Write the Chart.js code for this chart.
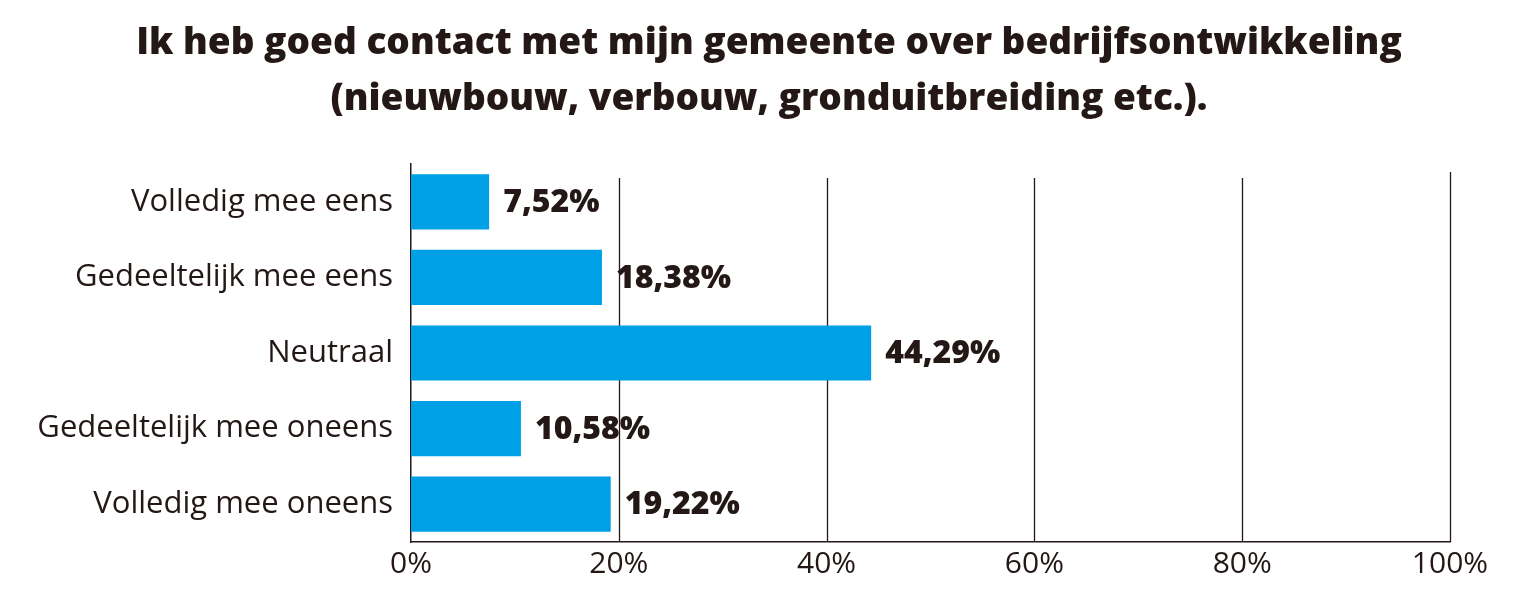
<!DOCTYPE html>
<html>
<head>
<meta charset="utf-8">
<script src="https://cdn.jsdelivr.net/npm/chart.js@4"></script>
<style>
  html, body { margin: 0; padding: 0; background: #fff; }
  #wrap { width: 1532px; height: 608px; }
</style>
</head>
<body>
<div id="wrap"><canvas id="chart"></canvas></div>
<script>
// answers, top to bottom
const categories = ['Volledig mee eens', 'Gedeeltelijk mee eens', 'Neutraal', 'Gedeeltelijk mee oneens', 'Volledig mee oneens'];
const percentages = [7.52, 18.38, 44.29, 10.58, 19.22];
const tickValues = [0, 20, 40, 60, 80, 100];
const titleLines = ['Ik heb goed contact met mijn gemeente over bedrijfsontwikkeling', '(nieuwbouw, verbouw, gronduitbreiding etc.).'];

const ink = '#231815';
const blue = '#00a0e6';

// title centred on the whole picture, not only over the plot
const wideTitle = {
  id: 'wideTitle',
  afterLayout(chart) {
    if (chart.titleBlock) {
      chart.titleBlock.left = 6;
      chart.titleBlock.right = chart.width;
    }
  }
};

// vertical lines, they stop a bit under the top of the plot (like the original)
const gridLines = {
  id: 'gridLines',
  beforeDatasetsDraw(chart) {
    const ctx = chart.ctx;
    const x = chart.scales.x;
    const area = chart.chartArea;
    ctx.save();
    ctx.strokeStyle = ink;
    ctx.lineWidth = 1.3;
    tickValues.forEach(v => {
      if (v === 0) return;
      const px = Math.round(x.getPixelForValue(v)) + 0.5;
      const gap = v === 100 ? 8 : 14;
      ctx.beginPath();
      ctx.moveTo(px, area.top + gap);
      ctx.lineTo(px, area.bottom);
      ctx.stroke();
    });
    ctx.restore();
  }
};

// write the value next to every bar
const valueLabels = {
  id: 'valueLabels',
  afterDatasetsDraw(chart) {
    const ctx = chart.ctx;
    const meta = chart.getDatasetMeta(0);
    ctx.save();
    ctx.font = '800 32px "Open Sans"';
    ctx.fillStyle = ink;
    ctx.textBaseline = 'middle';
    meta.data.forEach((bar, i) => {
      const txt = percentages[i].toFixed(2).replace('.', ',') + '%';
      ctx.fillText(txt, bar.x + 14, bar.y + 1);
    });
    ctx.restore();
  }
};

new Chart(document.getElementById('chart'), {
  type: 'bar',
  data: {
    labels: categories,
    datasets: [{
      data: percentages,
      backgroundColor: blue,
      borderWidth: 0,
      categoryPercentage: 1,
      barPercentage: 0.73
    }]
  },
  plugins: [wideTitle, gridLines, valueLabels],
  options: {
    indexAxis: 'y',
    responsive: true,
    maintainAspectRatio: false,
    animation: false,
    layout: { padding: { left: 0, right: 82, top: 0, bottom: 22 } },
    plugins: {
      legend: { display: false },
      tooltip: { enabled: false },
      title: {
        display: true,
        text: titleLines,
        color: ink,
        font: { family: 'Open Sans', size: 37, weight: '800', lineHeight: 1.5 },
        padding: { top: 16, bottom: 37 }
      }
    },
    scales: {
      x: {
        min: 0,
        max: 100,
        afterBuildTicks(scale) {
          scale.ticks = tickValues.map(v => ({ value: v }));
        },
        ticks: {
          color: ink,
          font: { family: 'Open Sans', size: 30 },
          padding: 4,
          callback: v => v + '%'
        },
        grid: { display: false, drawTicks: false },
        border: { color: ink, width: 1.5 }
      },
      y: {
        afterFit(scale) { scale.width = 411; },
        ticks: {
          color: ink,
          font: { family: 'Open Sans', size: 31 },
          padding: 18
        },
        grid: { display: false, drawTicks: false },
        border: { color: ink, width: 1.5 }
      }
    }
  }
});
</script>
</body>
</html>
